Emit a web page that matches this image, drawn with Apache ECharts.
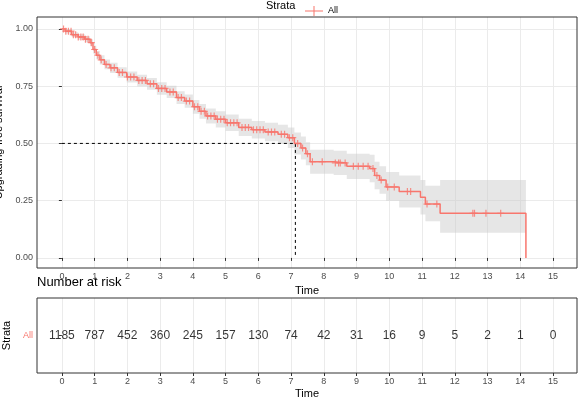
<!DOCTYPE html>
<html>
<head>
<meta charset="utf-8">
<script src="https://cdn.jsdelivr.net/npm/echarts@6/dist/echarts.min.js"></script>
<style>
  body { margin: 0; background: #fff; }
  #chart { width: 578px; height: 405px; }
</style>
</head>
<body>
<div id="chart"></div>
<script>
  // step curve: times and survival
  var times = [0, 0.1, 0.3, 0.5, 0.7, 0.86, 0.95, 1.05, 1.16, 1.3, 1.47, 1.7, 1.98, 2.3, 2.6, 2.9, 3.2, 3.5, 3.75, 4.0, 4.2, 4.4, 4.7, 5.0, 5.4, 5.8, 6.2, 6.6, 6.9, 7.1, 7.3, 7.45, 7.58, 8.3, 8.7, 9.4, 9.55, 9.7, 9.9, 10.3, 10.95, 11.1, 11.55, 14.17];
  var surv = [1.0, 0.99, 0.975, 0.965, 0.955, 0.94, 0.91, 0.885, 0.865, 0.845, 0.83, 0.81, 0.79, 0.775, 0.76, 0.74, 0.725, 0.70, 0.685, 0.66, 0.64, 0.62, 0.605, 0.59, 0.57, 0.56, 0.55, 0.54, 0.525, 0.50, 0.48, 0.455, 0.42, 0.415, 0.40, 0.39, 0.36, 0.34, 0.31, 0.29, 0.265, 0.235, 0.195, 0];
  var upper = [1.0, 1.0, 0.985, 0.977, 0.968, 0.955, 0.927, 0.903, 0.885, 0.866, 0.852, 0.833, 0.814, 0.80, 0.786, 0.767, 0.752, 0.728, 0.714, 0.69, 0.672, 0.653, 0.64, 0.626, 0.608, 0.598, 0.59, 0.582, 0.57, 0.548, 0.53, 0.505, 0.472, 0.468, 0.455, 0.45, 0.42, 0.40, 0.375, 0.36, 0.34, 0.315, 0.34, 0.34];
  var lower = [1.0, 0.98, 0.965, 0.953, 0.942, 0.925, 0.893, 0.867, 0.845, 0.824, 0.808, 0.787, 0.766, 0.75, 0.734, 0.713, 0.698, 0.672, 0.656, 0.63, 0.608, 0.587, 0.57, 0.554, 0.532, 0.522, 0.51, 0.498, 0.48, 0.452, 0.43, 0.405, 0.368, 0.362, 0.345, 0.33, 0.30, 0.28, 0.25, 0.22, 0.19, 0.16, 0.11, 0.11];
  var censorTimes = [0.05, 0.12, 0.2, 0.28, 0.35, 0.42, 0.5, 0.58, 0.65, 0.72, 0.8, 0.9, 1.0, 1.1, 1.2, 1.35, 1.5, 1.6, 1.75, 1.85, 2.0, 2.1, 2.2, 2.35, 2.45, 2.55, 2.7, 2.8, 2.95, 3.05, 3.15, 3.3, 3.4, 3.55, 3.65, 3.8, 3.9, 4.05, 4.15, 4.25, 4.35, 4.45, 4.55, 4.65, 4.75, 4.85, 4.95, 5.05, 5.15, 5.25, 5.35, 5.5, 5.6, 5.7, 5.85, 5.95, 6.05, 6.15, 6.3, 6.4, 6.5, 6.7, 6.8, 6.95, 7.05, 7.2, 7.35, 7.5, 7.65, 7.95, 8.35, 8.45, 8.5, 8.65, 8.9, 9.05, 9.2, 9.35, 9.5, 9.62, 9.75, 9.95, 10.15, 10.55, 10.65, 11.15, 11.45, 12.55, 12.6, 12.95, 13.4];
  var medianLine = [[0, 0.5], [7.13, 0.5], [7.13, 0]];
  var riskTimes = [0, 1, 2, 3, 4, 5, 6, 7, 8, 9, 10, 11, 12, 13, 14, 15];
  var riskCounts = [1185, 787, 452, 360, 245, 157, 130, 74, 42, 31, 16, 9, 5, 2, 1, 0];
  var xTicks = [0, 1, 2, 3, 4, 5, 6, 7, 8, 9, 10, 11, 12, 13, 14, 15];

  var red = '#F8766D';
  var chart = echarts.init(document.getElementById('chart'));

  function survAt(t) {
    var s = surv[0];
    for (var i = 0; i < times.length; i++) { if (times[i] <= t) s = surv[i]; }
    return s;
  }
  function pairs(ys) { return times.map(function (t, i) { return [t, ys[i]]; }); }
  var plus = 'path://M0,-1L0,1M-1,0L1,0';

  // confidence band as a step polygon
  function renderBand(params, api) {
    if (params.dataIndex !== 0) return;
    var top = [], bot = [];
    for (var i = 0; i < times.length; i++) {
      var tNext = i < times.length - 1 ? times[i + 1] : times[i];
      top.push(api.coord([times[i], upper[i]]), api.coord([tNext, upper[i]]));
      bot.push(api.coord([times[i], lower[i]]), api.coord([tNext, lower[i]]));
    }
    return { type: 'polygon', shape: { points: top.concat(bot.reverse()) },
      style: { fill: 'rgba(200,200,200,0.45)' }, silent: true };
  }

  var axisLabel = { color: '#4d4d4d', fontSize: 9, fontFamily: 'Liberation Sans' };
  var xAxisBase = {
    type: 'value', min: -0.76, max: 15.73,
    axisLine: { show: false }, axisTick: { show: true, length: 3, lineStyle: { color: '#333' }, customValues: xTicks },
    axisLabel: Object.assign({ customValues: xTicks, margin: 4 }, axisLabel),
    splitLine: { show: true, lineStyle: { color: '#ebebeb' }, customValues: xTicks },
    name: 'Time', nameLocation: 'middle', nameGap: 15,
    nameTextStyle: { color: '#000', fontSize: 11, fontFamily: 'Liberation Sans' }
  };

  chart.setOption({
    animation: false,
    textStyle: { fontFamily: 'Liberation Sans' },
    graphic: [
      { type: 'text', left: 266, top: 0, style: { text: 'Strata', fontSize: 11, fill: '#000', fontFamily: 'Liberation Sans' } },
      { type: 'text', left: 37, top: 276, style: { text: 'Number at risk', fontSize: 13, fill: '#000', fontFamily: 'Liberation Sans' } },
      { type: 'rect', shape: { x: 37, y: 17, width: 540, height: 251 }, style: { fill: 'none', stroke: '#333', lineWidth: 1 }, z: 10 },
      { type: 'rect', shape: { x: 37, y: 298, width: 540, height: 75 }, style: { fill: 'none', stroke: '#333', lineWidth: 1 }, z: 10 }
    ],
    legend: {
      left: 300, top: 1, itemWidth: 18, itemHeight: 10, itemGap: 4,
      data: [{ name: 'All', icon: 'path://M0,4.5L18,4.5L18,5.5L0,5.5ZM8.5,0L9.5,0L9.5,10L8.5,10Z' }],
      textStyle: { fontSize: 9, color: '#000' }
    },
    grid: [
      { left: 37, right: 1, top: 17, height: 251, outerBoundsMode: 'none', containLabel: false },
      { left: 37, right: 1, top: 298, height: 75, outerBoundsMode: 'none', containLabel: false }
    ],
    xAxis: [
      Object.assign({ gridIndex: 0 }, xAxisBase),
      Object.assign({ gridIndex: 1 }, xAxisBase)
    ],
    yAxis: [
      {
        gridIndex: 0, type: 'value', min: -0.044, max: 1.052,
        axisLine: { show: false },
        axisTick: { show: true, length: 3, lineStyle: { color: '#333' }, customValues: [0, 0.25, 0.5, 0.75, 1] },
        axisLabel: Object.assign({ customValues: [0, 0.25, 0.5, 0.75, 1], margin: 4,
          formatter: function (v) { return v.toFixed(2); } }, axisLabel),
        splitLine: { show: true, lineStyle: { color: '#ebebeb' }, customValues: [0, 0.125, 0.25, 0.375, 0.5, 0.625, 0.75, 0.875, 1] },
        name: 'Upgrading-free survival', nameLocation: 'middle', nameGap: 28,
        nameTextStyle: { color: '#000', fontSize: 11 }
      },
      {
        gridIndex: 1, type: 'category', data: ['All'],
        axisLine: { show: false }, axisTick: { show: true, length: 3, lineStyle: { color: '#333' }, alignWithLabel: true },
        axisLabel: { color: red, fontSize: 9, margin: 4 },
        splitLine: { show: false },
        name: 'Strata', nameLocation: 'middle', nameGap: 24,
        nameTextStyle: { color: '#000', fontSize: 11 }
      }
    ],
    series: [
      { type: 'custom', data: [[0, 0]], renderItem: renderBand, silent: true, z: 1 },
      { type: 'line', name: 'All', data: pairs(surv), step: 'end', symbol: 'none',
        lineStyle: { color: red, width: 1.5 }, itemStyle: { color: red }, z: 3 },
      { type: 'scatter', name: 'All', data: censorTimes.map(function (t) { return [t, survAt(t)]; }),
        symbol: plus, symbolSize: 7, itemStyle: { color: 'none', borderColor: red, borderWidth: 1.2 }, z: 3 },
      { type: 'line', data: medianLine, symbol: 'none', lineStyle: { color: '#000', type: [3, 3], width: 1 }, z: 2 },
      { type: 'scatter', xAxisIndex: 1, yAxisIndex: 1, symbolSize: 0,
        data: riskTimes.map(function (t, i) { return [t, 'All', riskCounts[i]]; }),
        label: { show: true, position: 'inside', fontSize: 12, color: '#000',
          formatter: function (p) { return p.value[2]; } } }
    ]
  });
</script>
</body>
</html>
